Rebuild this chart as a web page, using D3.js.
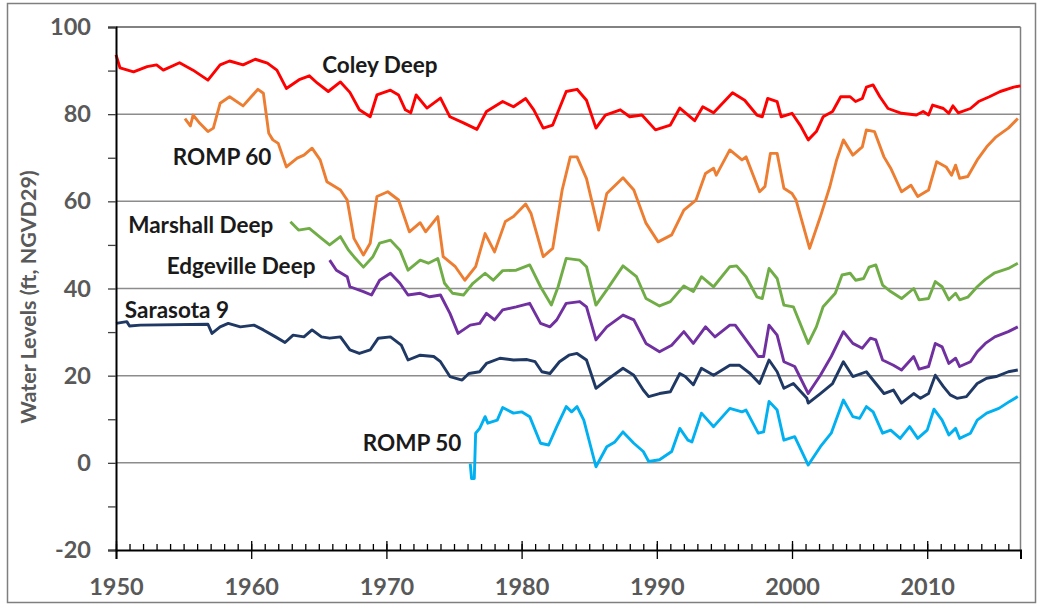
<!DOCTYPE html>
<html>
<head>
<meta charset="utf-8">
<script src="https://cdn.jsdelivr.net/npm/d3@7"></script>
<style>
  body { margin: 0; background: #fff; }
  svg { display: block; font-family: Lato, "Open Sans", sans-serif; }
</style>
</head>
<body>
<script>
// water level records, [year, ft NGVD29]
const coleyDeep = [
  [1950.0,93.6],[1950.3,90.6],[1951.3,89.7],[1952.3,90.9],[1953.0,91.3],[1953.5,90.1],[1954.7,91.8],[1955.7,90.1],
  [1956.8,87.8],[1957.7,91.3],[1958.4,92.2],[1959.4,91.3],[1960.3,92.6],[1961.2,91.7],[1961.9,90.1],[1962.6,85.9],
  [1963.6,88.0],[1964.3,88.8],[1964.9,87.1],[1965.7,85.2],[1966.6,87.4],[1967.3,85.0],[1968.0,81.0],[1968.8,79.4],
  [1969.3,84.4],[1970.3,85.5],[1970.9,84.4],[1971.4,81.0],[1971.8,80.3],[1972.2,84.4],[1973.0,81.4],[1974.0,83.7],
  [1974.7,79.4],[1975.7,78.0],[1976.7,76.5],[1977.4,80.6],[1978.6,82.9],[1979.4,81.7],[1980.3,83.6],[1980.9,81.0],
  [1981.6,76.8],[1982.3,77.5],[1983.3,85.2],[1984.1,85.7],[1984.8,83.2],[1985.5,76.8],[1986.2,79.8],[1987.3,81.0],
  [1988.0,79.4],[1988.9,79.8],[1989.9,76.4],[1991.0,77.5],[1991.7,81.4],[1992.8,78.5],[1993.4,81.7],[1994.2,80.3],
  [1995.6,84.9],[1996.5,83.2],[1997.4,79.8],[1997.8,79.4],[1998.2,83.6],[1998.9,82.9],[1999.2,79.4],[2000.0,80.2],
  [2000.6,77.5],[2001.2,74.1],[2001.8,76.0],[2002.3,79.4],[2003.0,80.6],[2003.6,84.0],[2004.3,84.0],[2004.7,82.9],
  [2005.2,83.6],[2005.5,86.2],[2006.0,86.7],[2006.5,84.0],[2007.1,81.3],[2008.1,80.2],[2009.2,79.8],[2009.7,80.6],
  [2010.1,79.8],[2010.4,82.1],[2011.2,81.3],[2011.6,80.2],[2011.9,81.9],[2012.3,80.3],[2013.2,81.3],[2013.8,82.9],
  [2014.6,84.0],[2015.4,85.2],[2016.4,86.2],[2016.9,86.5]
];

const romp60 = [
  [1955.1,79.0],[1955.5,77.3],[1955.7,79.8],[1956.2,77.9],[1956.8,76.0],[1957.2,76.8],[1957.7,82.5],[1958.4,84.0],
  [1959.4,81.9],[1960.0,84.0],[1960.5,85.7],[1960.9,84.8],[1961.3,75.6],[1961.6,74.1],[1962.0,73.3],[1962.6,67.9],
  [1963.4,69.9],[1963.9,70.6],[1964.5,72.2],[1965.1,69.5],[1965.6,64.5],[1966.6,62.6],[1967.1,60.3],[1967.6,51.5],
  [1968.3,47.7],[1968.8,50.4],[1969.3,61.1],[1970.1,62.2],[1970.9,60.3],[1971.7,53.0],[1972.5,55.1],[1972.9,53.0],
  [1973.8,56.5],[1974.2,47.3],[1975.1,45.0],[1975.8,41.9],[1976.6,45.0],[1977.3,52.6],[1978.0,48.4],[1978.8,55.4],
  [1979.4,56.5],[1980.3,59.4],[1980.7,57.2],[1981.6,47.3],[1982.3,49.2],[1983.0,62.6],[1983.6,70.2],[1984.1,70.2],
  [1984.8,65.2],[1985.7,53.4],[1986.3,61.8],[1987.5,65.4],[1988.3,62.6],[1989.2,55.0],[1990.1,50.7],[1991.1,52.3],
  [1992.0,58.0],[1992.9,60.3],[1993.6,66.4],[1994.2,67.6],[1994.4,66.0],[1995.4,71.8],[1996.3,69.5],[1996.6,70.2],
  [1997.6,62.2],[1998.0,63.4],[1998.4,71.0],[1998.9,71.0],[1999.4,63.0],[2000.0,61.8],[2000.3,60.3],[2001.3,49.2],
  [2002.1,56.5],[2002.8,63.4],[2003.3,69.5],[2003.8,74.1],[2004.5,70.6],[2005.2,72.5],[2005.5,76.4],[2006.1,76.0],
  [2006.8,70.2],[2007.3,67.6],[2008.1,62.2],[2008.8,63.7],[2009.3,61.1],[2010.1,62.6],[2010.7,69.1],[2011.4,67.9],
  [2011.8,66.0],[2012.1,68.3],[2012.4,65.3],[2013.0,65.7],[2013.7,69.5],[2014.4,72.5],[2015.1,74.8],[2016.0,76.8],
  [2016.7,79.0]
];

const marshallDeep = [
  [1962.9,55.3],[1963.5,53.4],[1964.3,53.8],[1965.2,51.5],[1965.8,50.0],[1966.6,51.9],[1967.2,48.8],[1967.6,47.3],
  [1968.3,44.9],[1969.0,47.3],[1969.5,50.4],[1970.3,51.1],[1971.0,48.8],[1971.6,44.2],[1972.5,46.5],[1973.1,45.8],
  [1973.8,46.9],[1974.3,41.2],[1974.9,38.9],[1975.7,38.5],[1976.4,41.2],[1977.3,43.5],[1977.9,41.9],[1978.6,44.1],
  [1979.6,44.2],[1980.6,45.4],[1981.4,40.4],[1982.2,36.2],[1982.7,40.4],[1983.3,46.9],[1984.3,46.5],[1984.8,45.0],
  [1985.5,36.2],[1986.3,39.7],[1987.5,45.2],[1988.5,42.7],[1989.2,37.7],[1990.2,36.0],[1991.0,37.0],[1992.0,40.6],
  [1992.7,39.3],[1993.3,42.7],[1994.2,40.4],[1995.4,45.0],[1995.9,45.2],[1996.6,42.7],[1997.4,38.1],[1997.8,37.7],
  [1998.3,44.6],[1998.9,42.3],[1999.4,36.2],[2000.1,35.8],[2001.2,27.4],[2001.8,31.2],[2002.3,35.8],[2003.2,38.9],
  [2003.7,43.1],[2004.3,43.5],[2004.7,41.9],[2005.3,42.3],[2005.7,44.9],[2006.2,45.4],[2006.7,40.8],[2007.3,39.3],
  [2008.1,37.7],[2009.0,40.0],[2009.4,37.4],[2010.1,37.7],[2010.6,41.6],[2011.1,40.4],[2011.6,37.4],[2012.1,38.9],
  [2012.4,37.4],[2013.0,38.0],[2013.7,40.4],[2014.3,42.1],[2015.0,43.6],[2016.0,44.6],[2016.7,45.8]
];

const edgevilleDeep = [
  [1965.8,46.5],[1966.3,44.2],[1967.1,42.7],[1967.3,40.4],[1968.3,39.3],[1968.9,38.5],[1969.5,41.9],[1970.3,43.5],
  [1971.0,41.2],[1971.6,38.5],[1972.5,38.9],[1973.2,38.1],[1974.0,38.5],[1974.7,34.3],[1975.3,29.7],[1976.2,31.6],
  [1976.9,32.0],[1977.4,34.3],[1978.0,32.8],[1978.6,35.1],[1979.6,35.8],[1980.6,36.6],[1981.4,32.0],[1982.1,31.2],
  [1982.6,32.8],[1983.3,36.6],[1984.3,37.0],[1984.8,35.8],[1985.5,28.2],[1986.3,31.2],[1987.5,33.9],[1988.3,32.8],
  [1989.2,27.4],[1990.2,25.5],[1991.1,27.0],[1992.0,30.1],[1992.7,27.4],[1993.6,31.2],[1994.3,28.9],[1995.4,31.6],
  [1995.8,31.6],[1996.6,28.2],[1997.5,24.4],[1997.9,24.4],[1998.3,31.6],[1998.9,29.3],[1999.4,23.2],[2000.2,22.1],
  [2001.2,15.9],[2002.1,20.1],[2002.9,24.4],[2003.8,30.1],[2004.5,27.4],[2005.2,26.3],[2005.8,28.6],[2006.2,28.2],
  [2006.7,23.6],[2007.5,22.4],[2008.1,21.3],[2009.0,24.4],[2009.4,21.5],[2010.1,22.1],[2010.6,27.4],[2011.1,26.6],
  [2011.6,22.8],[2012.1,24.0],[2012.4,22.1],[2013.2,23.2],[2013.7,25.5],[2014.3,27.4],[2015.0,28.9],[2016.0,30.1],
  [2016.7,31.2]
];

const sarasota9 = [
  [1950.0,32.0],[1950.8,32.4],[1951.0,31.4],[1951.8,31.6],[1956.8,31.8],[1957.1,29.7],[1957.7,31.2],[1958.3,32.0],
  [1959.2,31.2],[1960.2,31.6],[1960.9,30.5],[1961.8,28.9],[1962.5,27.6],[1963.1,29.3],[1963.9,28.9],[1964.5,30.5],
  [1965.2,28.9],[1965.8,28.6],[1966.6,28.9],[1967.3,25.9],[1968.0,25.1],[1968.8,25.9],[1969.4,28.6],[1970.3,28.9],
  [1971.1,27.0],[1971.6,23.6],[1972.5,24.7],[1973.5,24.4],[1974.0,23.2],[1974.7,19.8],[1975.6,19.0],[1976.1,20.5],
  [1976.9,20.9],[1977.4,22.8],[1978.4,24.0],[1979.4,23.6],[1980.4,23.7],[1981.0,23.2],[1981.5,20.9],[1982.1,20.5],
  [1982.8,23.2],[1983.5,24.7],[1984.1,25.1],[1984.8,23.6],[1985.5,17.1],[1986.3,19.0],[1987.5,21.7],[1988.3,20.1],
  [1989.0,16.7],[1989.4,15.2],[1990.2,15.9],[1991.0,16.3],[1991.7,20.5],[1992.1,19.8],[1992.7,17.9],[1993.3,21.7],
  [1994.2,20.1],[1995.4,22.4],[1996.1,22.4],[1996.9,20.5],[1997.6,18.2],[1998.3,23.6],[1998.9,20.9],[1999.4,17.1],
  [2000.1,18.2],[2001.1,14.8],[2001.2,13.7],[2002.1,15.9],[2003.0,18.2],[2003.8,23.2],[2004.5,19.8],[2005.5,20.9],
  [2006.2,18.2],[2006.8,15.9],[2007.5,16.7],[2008.1,13.7],[2009.0,15.9],[2009.5,14.8],[2010.1,15.9],[2010.6,20.1],
  [2011.2,17.5],[2011.7,15.6],[2012.2,14.8],[2012.9,15.2],[2013.7,18.2],[2014.4,19.4],[2015.1,19.8],[2016.0,20.9],
  [2016.7,21.3]
];

const romp50 = [
  [1976.2,-0.2],[1976.3,-3.6],[1976.5,-3.6],[1976.6,6.8],[1976.9,7.9],[1977.3,10.6],[1977.5,9.1],[1978.2,9.8],
  [1978.6,12.7],[1979.4,11.4],[1980.0,11.7],[1980.6,10.6],[1981.4,4.5],[1982.0,4.1],[1982.6,8.3],[1983.3,12.9],
  [1983.7,11.7],[1984.1,12.9],[1984.6,9.8],[1985.5,-0.9],[1986.3,3.7],[1986.9,4.8],[1987.5,7.1],[1988.3,4.5],
  [1989.0,2.6],[1989.4,0.3],[1990.2,0.7],[1991.1,2.6],[1991.7,7.9],[1992.3,5.2],[1992.6,4.8],[1993.3,11.4],
  [1994.2,8.3],[1995.4,12.5],[1996.3,11.7],[1996.6,12.1],[1997.5,6.8],[1997.9,7.1],[1998.3,14.1],[1998.9,12.1],
  [1999.4,5.2],[2000.2,6.0],[2001.2,-0.5],[2002.1,3.7],[2002.9,6.8],[2003.8,14.4],[2004.5,10.6],[2005.0,10.2],
  [2005.5,12.9],[2006.0,11.7],[2006.7,6.8],[2007.3,7.5],[2008.0,5.6],[2008.7,8.3],[2009.3,5.6],[2010.0,7.5],
  [2010.5,12.3],[2011.1,9.8],[2011.6,6.4],[2012.1,7.9],[2012.4,5.6],[2013.2,6.8],[2013.7,9.8],[2014.4,11.4],
  [2015.3,12.5],[2016.1,14.1],[2016.7,15.2]
];

const seriesNames = ["Coley Deep", "ROMP 60", "Marshall Deep", "Edgeville Deep", "Sarasota 9", "ROMP 50"];
const seriesData = [coleyDeep, romp60, marshallDeep, edgevilleDeep, sarasota9, romp50];
const seriesColors = ["#ff0000", "#ed7d31", "#70ad47", "#7030a0", "#1f3864", "#00b0f0"];

const yTicks = [-20, 0, 20, 40, 60, 80, 100];
const xTicks = [1950, 1960, 1970, 1980, 1990, 2000, 2010];

// label anchors (year, level) for the series names
const labelSpots = [
  [1965.25, 91.3], [1954.2, 70.2], [1950.9, 54.6], [1953.75, 45.2], [1950.65, 35.1], [1968.25, 4.6]
];

const width = 1037, height = 605;
const plotLeft = 116, plotRight = 1020.5, plotTop = 27, plotBottom = 550;

const svg = d3.select("body").append("svg")
  .attr("width", width)
  .attr("height", height);

// outer frame
svg.append("rect")
  .attr("x", 7.5).attr("y", 3.5)
  .attr("width", 1028).attr("height", 599)
  .style("fill", "none")
  .style("stroke", "#7f7f7f")
  .style("stroke-width", 1.5);

const x = d3.scaleLinear().domain([1950, 2016.9]).range([plotLeft, plotRight]);
const y = d3.scaleLinear().domain([-20, 100]).range([plotBottom, plotTop]);

// gridlines
svg.append("g")
  .selectAll("line")
  .data(yTicks.filter(d => d > -20 && d < 100))
  .enter()
  .append("line")
  .attr("x1", plotLeft).attr("x2", plotRight)
  .attr("y1", d => y(d)).attr("y2", d => y(d))
  .style("stroke", "#8c8c8c")
  .style("stroke-width", 1.5);

// top and right border of plot area
svg.append("line")
  .attr("x1", plotLeft).attr("x2", plotRight)
  .attr("y1", y(100)).attr("y2", y(100))
  .style("stroke", "#595959").style("stroke-width", 1.5);
svg.append("line")
  .attr("x1", plotRight).attr("x2", plotRight)
  .attr("y1", plotTop).attr("y2", plotBottom)
  .style("stroke", "#7f7f7f").style("stroke-width", 1.5);

// series lines
const line = d3.line()
  .x(d => x(d[0]))
  .y(d => y(d[1]));

svg.append("g")
  .selectAll("path")
  .data(seriesData)
  .enter()
  .append("path")
  .attr("d", line)
  .style("fill", "none")
  .style("stroke", (d, i) => seriesColors[i])
  .style("stroke-width", 2.9)
  .style("stroke-linejoin", "round");

// y axis
const yAxis = svg.append("g")
  .attr("transform", `translate(${plotLeft},0)`)
  .call(d3.axisLeft(y)
    .tickValues(d3.range(-20, 101, 10))
    .tickSize(8)
    .tickPadding(17)
    .tickFormat(d => yTicks.includes(d) ? d : ""));

// x axis: minor yearly ticks inside, decade ticks crossing
const xMinor = svg.append("g")
  .attr("transform", `translate(0,${plotBottom})`)
  .call(d3.axisBottom(x)
    .tickValues(d3.range(1950, 2017))
    .tickSize(-6)
    .tickFormat(""));

const xAxis = svg.append("g")
  .attr("transform", `translate(0,${plotBottom})`)
  .call(d3.axisBottom(x)
    .tickValues(xTicks)
    .tickSize(9)
    .tickPadding(19)
    .tickFormat(d3.format("d")));

xAxis.selectAll(".tick line").attr("y1", -9);
xMinor.select(".domain").remove();

[xAxis, xMinor, yAxis].forEach(a => {
  a.selectAll("path.domain")
    .style("stroke", "#000")
    .style("stroke-width", 2);
  a.selectAll(".tick line")
    .style("stroke", "#000")
    .style("stroke-width", 1.3);
});
yAxis.selectAll(".tick line").style("stroke", "#404040");

[xAxis, yAxis].forEach(a => {
  a.selectAll("text")
    .style("font-family", "Lato, sans-serif")
    .style("font-size", "23.5px")
    .style("font-weight", "bold")
    .style("fill", "#595959");
});

// y axis title
svg.append("text")
  .attr("transform", "translate(36,297) rotate(-90)")
  .attr("text-anchor", "middle")
  .style("font-size", "21.5px")
  .style("font-weight", "bold")
  .style("fill", "#595959")
  .text("Water Levels (ft, NGVD29)");

// series labels
svg.append("g")
  .selectAll("text")
  .data(seriesNames)
  .enter()
  .append("text")
  .attr("x", (d, i) => x(labelSpots[i][0]))
  .attr("y", (d, i) => y(labelSpots[i][1]))
  .attr("dy", "0.36em")
  .style("font-size", "22.5px")
  .style("font-weight", "bold")
  .style("fill", "#1a1a1a")
  .text(d => d);
</script>
</body>
</html>
